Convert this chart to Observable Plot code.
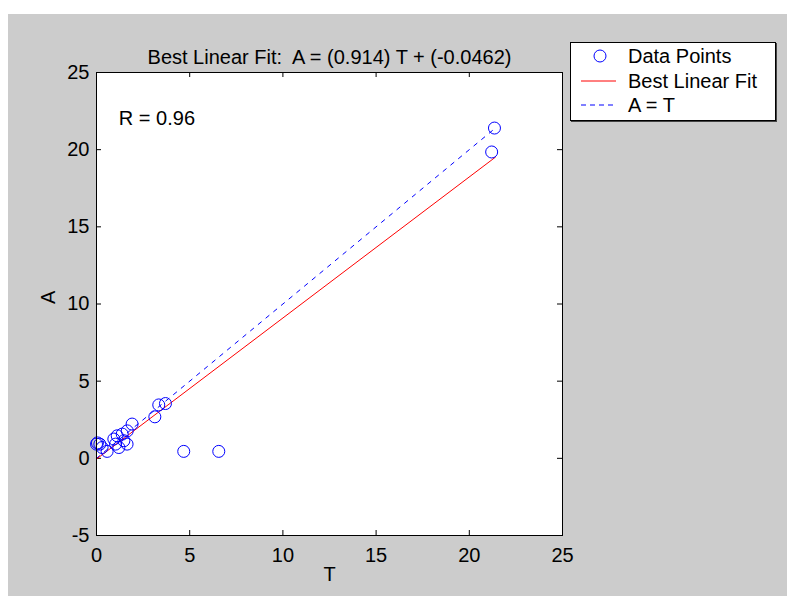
<!DOCTYPE html>
<html>
<head>
<meta charset="utf-8">
<script src="https://cdn.jsdelivr.net/npm/d3@7"></script>
<script src="https://cdn.jsdelivr.net/npm/@observablehq/plot@0.6"></script>
<style>
  html, body { margin: 0; padding: 0; background: #ffffff; }
  body { padding: 14px 0 0 8px; width: 779px; height: 582px; overflow: hidden; font-family: "Liberation Sans", Arial, sans-serif; }
  #chart svg text { white-space: pre; }
  #legend { position: absolute; left: 570px; top: 42px; width: 206px; height: 79px; box-sizing: border-box;
            background: #ffffff; border: 1px solid #000; box-shadow: 1px 1px 0 #444; font-size: 20px; color: #000; }
  #legend .row { position: absolute; left: 0; height: 24px; line-height: 24px; white-space: nowrap; }
  #legend .row svg { position: absolute; left: 9px; top: 0; }
  #legend .row span { position: absolute; left: 57px; top: 0; }
</style>
</head>
<body>
<div id="chart"></div>
<div id="legend"></div>
<script>
// Targets (T) and network outputs (A)
const targetT = [21.35, 21.2, 4.68, 6.56, 3.13, 3.34, 3.70, 0.00, 0.18, 0.30, 0.57, 0.93, 1.02, 1.20, 1.38, 1.47, 1.64, 1.65, 1.91, 0.05, 1.11];
const outputA = [21.40, 19.85, 0.45, 0.45, 2.69, 3.46, 3.55, 0.92, 0.92, 0.70, 0.45, 1.25, 0.92, 0.70, 1.57, 1.14, 0.92, 1.78, 2.22, 1.00, 1.46];
// Regression line parameters
const slope = 0.914;
const intercept = -0.0462;
const lineRange = [0, 21.4];
const rValue = "0.96";
const xTicks = [0, 5, 10, 15, 20, 25];
const yTicks = [-5, 0, 5, 10, 15, 20, 25];
const titleText = "Best Linear Fit:  A = (0.914) T + (-0.0462)";
const legendLabels = ["Data Points", "Best Linear Fit", "A = T"];

const points = targetT.map((t, i) => ({T: t, A: outputA[i]}));
const fitLine = lineRange.map(t => ({T: t, A: slope * t + intercept}));
const identityLine = lineRange.map(t => ({T: t, A: t}));
const rLabel = [{T: 1.2, A: 22, label: "R = " + rValue}];

const W = 779, H = 582;
const mL = 88, mR = 225, mT = 58, mB = 61;
const innerW = W - mL - mR, innerH = H - mT - mB;
const tickLen = 5;
const fmt = d => String(d);

const chart = Plot.plot({
  width: W, height: H,
  marginLeft: mL, marginRight: mR, marginTop: mT, marginBottom: mB,
  style: {background: "#cccccc", fontFamily: "'Liberation Sans', Arial, sans-serif", fontSize: "20px", color: "#000", overflow: "visible"},
  x: {domain: [0, 25], ticks: xTicks},
  y: {domain: [-5, 25], ticks: yTicks},
  marks: [
    Plot.frame({fill: "#ffffff", stroke: null}),
    Plot.tickX(xTicks, {x: d => d, insetTop: innerH - tickLen, stroke: "#000"}),
    Plot.tickX(xTicks, {x: d => d, insetBottom: innerH - tickLen, stroke: "#000"}),
    Plot.tickY(yTicks, {y: d => d, insetRight: innerW - tickLen, stroke: "#000"}),
    Plot.tickY(yTicks, {y: d => d, insetLeft: innerW - tickLen, stroke: "#000"}),
    Plot.line(identityLine, {x: "T", y: "A", stroke: "#0000ff", strokeWidth: 1, strokeDasharray: "4,6"}),
    Plot.line(fitLine, {x: "T", y: "A", stroke: "#ff0000", strokeWidth: 1}),
    Plot.dot(points, {x: "T", y: "A", r: 6, stroke: "#0000ff", strokeWidth: 1, fill: "none"}),
    Plot.text(rLabel, {x: "T", y: "A", text: "label", textAnchor: "start", fill: "#000"}),
    Plot.frame({stroke: "#000", strokeWidth: 1}),
    Plot.axisX({ticks: xTicks, tickFormat: fmt, tickSize: 0, tickPadding: 12, label: null, fill: "#000"}),
    Plot.axisY({ticks: yTicks, tickFormat: fmt, tickSize: 0, tickPadding: 7, label: null, fill: "#000"}),
    Plot.text([titleText], {frameAnchor: "top", dy: -23, fill: "#000"}),
    Plot.text(["T"], {frameAnchor: "bottom", dy: 45, fill: "#000"}),
    Plot.text(["A"], {frameAnchor: "left", dx: -48, rotate: -90, fill: "#000"})
  ]
});
document.getElementById("chart").appendChild(chart);

// Legend (outside plot area)
const legend = document.getElementById("legend");
const rowTops = [1, 26, 50];
const symbols = [
  '<svg width="40" height="24"><circle cx="20" cy="12" r="6" fill="none" stroke="#0000ff" stroke-width="1"/></svg>',
  '<svg width="40" height="24"><line x1="1" y1="12" x2="36" y2="12" stroke="#ff0000" stroke-width="1"/></svg>',
  '<svg width="40" height="24"><line x1="1" y1="12" x2="36" y2="12" stroke="#0000ff" stroke-width="1" stroke-dasharray="5,4"/></svg>'
];
legendLabels.forEach((lab, i) => {
  const row = document.createElement("div");
  row.className = "row";
  row.style.top = rowTops[i] + "px";
  row.innerHTML = symbols[i] + "<span></span>";
  row.querySelector("span").textContent = lab;
  legend.appendChild(row);
});
</script>
</body>
</html>
